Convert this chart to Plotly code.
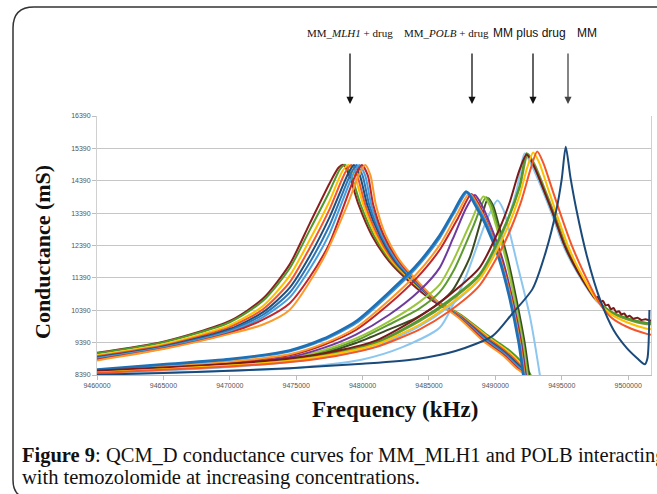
import plotly.graph_objects as go

# ---------------- axis ticks ----------------
Y_TICKS = [8390, 9390, 10390, 11390, 12390, 13390, 14390, 15390, 16390]
X_TICKS = [9460000, 9465000, 9470000, 9475000, 9480000, 9485000, 9490000, 9495000, 9500000]
X_RANGE = [9460000, 9501720]
Y_RANGE = [8390, 16390]

# ---------------- MM_MLH1 + drug (frequency kHz, conductance mS) ----------------
MLH1_DARKRED = [(9460000, 9080), (9465000, 9420), (9470000, 10060), (9472500, 10750), (9474500, 11800),
                (9476000, 13050), (9477500, 14300), (9478200, 14800), (9478550, 14880), (9479000, 14550),
                (9479700, 13650), (9480700, 12700), (9482000, 11900), (9483500, 11280), (9485300, 10680),
                (9487300, 10200), (9489300, 9560), (9490800, 9130), (9491800, 8730), (9492450, 8390), (9492600, 8100)]
MLH1_GREEN = [(9460000, 9060), (9465000, 9400), (9470000, 10020), (9472500, 10680), (9474500, 11680),
              (9476000, 12850), (9477500, 14050), (9478300, 14750), (9478700, 14880), (9479150, 14550),
              (9479850, 13650), (9480850, 12700), (9482150, 11900), (9483650, 11300), (9485400, 10720),
              (9487400, 10250), (9489400, 9620), (9490900, 9200), (9491950, 8800), (9492650, 8390), (9492800, 8100)]
MLH1_YELLOW = [(9460000, 9000), (9465000, 9340), (9470000, 9930), (9472500, 10520), (9474500, 11450),
               (9476000, 12550), (9477500, 13750), (9478500, 14700), (9478950, 14880), (9479400, 14550),
               (9480050, 13650), (9481000, 12700), (9482250, 11900), (9483750, 11280), (9485450, 10700),
               (9487400, 10220), (9489400, 9580), (9490850, 9150), (9491850, 8760), (9492550, 8390), (9492700, 8100)]
MLH1_ORANGERED = [(9460000, 8970), (9465000, 9300), (9470000, 9870), (9472500, 10420), (9474500, 11250),
                  (9476000, 12300), (9477500, 13500), (9478700, 14650), (9479150, 14880), (9479600, 14550),
                  (9480200, 13650), (9481150, 12700), (9482350, 11900), (9483850, 11270), (9485500, 10680),
                  (9487400, 10200), (9489350, 9550), (9490800, 9110), (9491800, 8720), (9492450, 8390), (9492600, 8100)]
MLH1_NAVY = [(9460000, 8940), (9465000, 9270), (9470000, 9810), (9472500, 10330), (9474500, 11080),
             (9476000, 12050), (9477500, 13250), (9478900, 14600), (9479350, 14880), (9479800, 14550),
             (9480350, 13650), (9481300, 12700), (9482450, 11900), (9483900, 11260), (9485550, 10660),
             (9487400, 10170), (9489300, 9520), (9490750, 9080), (9491750, 8690), (9492400, 8390), (9492550, 8100)]
MLH1_BLUE = [(9460000, 8920), (9465000, 9250), (9470000, 9770), (9472500, 10250), (9474500, 10930),
             (9476000, 11850), (9477500, 13000), (9479100, 14600), (9479550, 14880), (9480000, 14550),
             (9480500, 13650), (9481400, 12700), (9482550, 11900), (9484000, 11250), (9485600, 10650),
             (9487400, 10160), (9489250, 9500), (9490700, 9060), (9491700, 8670), (9492350, 8390), (9492500, 8100)]
MLH1_LBLUE = [(9460000, 8900), (9465000, 9230), (9470000, 9730), (9472500, 10180), (9474500, 10780),
              (9476000, 11650), (9477500, 12750), (9479300, 14600), (9479750, 14880), (9480200, 14550),
              (9480650, 13650), (9481500, 12700), (9482650, 11900), (9484100, 11240), (9485650, 10640),
              (9487400, 10150), (9489200, 9480), (9490650, 9040), (9491650, 8650), (9492300, 8390), (9492450, 8100)]
MLH1_RED = [(9460000, 8870), (9465000, 9210), (9470000, 9690), (9472500, 10100), (9474500, 10600),
            (9476000, 11400), (9477500, 12450), (9479500, 14600), (9479950, 14880), (9480400, 14550),
            (9480800, 13650), (9481600, 12700), (9482750, 11900), (9484200, 11230), (9485700, 10630),
            (9487400, 10130), (9489150, 9460), (9490600, 9020), (9491600, 8630), (9492250, 8390), (9492400, 8100)]
MLH1_ORANGE = [(9460000, 8840), (9465000, 9190), (9470000, 9660), (9472500, 9950), (9474500, 10400),
               (9477000, 11950), (9478800, 13590), (9479750, 14600), (9480200, 14880), (9480600, 14550),
               (9481000, 13650), (9481750, 12700), (9482850, 11900), (9484300, 11220), (9485750, 10620),
               (9487400, 10100), (9489100, 9430), (9490550, 9000), (9491550, 8610), (9492200, 8390), (9492350, 8100)]

# ---------------- MM_POLB + drug ----------------
POLB_BLUE1 = [(9460000, 8560), (9465000, 8720), (9470000, 8880), (9474500, 9150), (9477000, 9500), (9479500, 10050),
              (9482000, 10950), (9484000, 11750), (9485800, 12700), (9486800, 13400), (9487800, 14060),
              (9488500, 13620), (9489300, 13000), (9490300, 11950), (9491050, 10800), (9491750, 9400),
              (9492100, 8390), (9492200, 8100)]
POLB_BLUE2 = [(9460000, 8540), (9465000, 8700), (9470000, 8860), (9474500, 9120), (9477000, 9460), (9479500, 9990),
              (9482000, 10880), (9484000, 11680), (9485800, 12620), (9486900, 13400), (9487900, 14040),
              (9488600, 13620), (9489400, 13000), (9490350, 11950), (9491100, 10800), (9491800, 9400),
              (9492150, 8390), (9492250, 8100)]
POLB_ORANGE = [(9460000, 8500), (9465000, 8650), (9470000, 8800), (9474500, 9030), (9477000, 9350), (9479500, 9850),
               (9482000, 10700), (9484000, 11480), (9485800, 12400), (9487100, 13350), (9488050, 14000),
               (9488700, 13620), (9489450, 13000), (9490400, 11950), (9491150, 10800), (9491850, 9400),
               (9492200, 8390), (9492300, 8100)]
POLB_RED = [(9460000, 8490), (9465000, 8630), (9470000, 8780), (9474500, 9000), (9477000, 9310), (9479500, 9780),
            (9482000, 10580), (9484000, 11350), (9485800, 12250), (9487200, 13250), (9488200, 13980),
            (9488800, 13620), (9489500, 13000), (9490450, 11950), (9491200, 10800), (9491900, 9400),
            (9492250, 8390), (9492350, 8100)]
POLB_PURPLE = [(9460000, 8470), (9465000, 8600), (9470000, 8740), (9474500, 8940), (9477000, 9220), (9479500, 9640),
               (9482000, 10250), (9484300, 11000), (9485800, 11700), (9486800, 12600), (9487800, 13550),
               (9488450, 13950), (9489000, 13620), (9489650, 13000), (9490550, 11950), (9491250, 10800),
               (9491950, 9400), (9492300, 8390), (9492400, 8100)]
POLB_YGREEN = [(9460000, 8460), (9465000, 8580), (9470000, 8710), (9474500, 8900), (9477000, 9150), (9479500, 9520),
               (9482000, 10050), (9484300, 10650), (9485800, 11180), (9486800, 11900), (9488100, 13070),
               (9489100, 13900), (9489550, 13650), (9490050, 13000), (9490800, 11950), (9491400, 10800),
               (9492050, 9400), (9492400, 8390), (9492500, 8100)]
POLB_GREEN = [(9460000, 8455), (9465000, 8570), (9470000, 8695), (9474500, 8870), (9477000, 9100), (9479500, 9450),
              (9482000, 9950), (9484300, 10450), (9485800, 10950), (9486900, 11650), (9488300, 12950),
              (9489300, 13880), (9489700, 13650), (9490150, 13000), (9490850, 11950), (9491450, 10800),
              (9492100, 9400), (9492450, 8390), (9492550, 8100)]
POLB_DOLIVE = [(9460000, 8450), (9465000, 8560), (9470000, 8680), (9474500, 8850), (9477000, 9060), (9479500, 9380),
               (9482000, 9800), (9484000, 10150), (9485800, 10620), (9486800, 11020), (9488100, 12050),
               (9488850, 13070), (9489450, 13850), (9489850, 13600), (9490300, 12950), (9490950, 11950),
               (9491550, 10800), (9492200, 9400), (9492550, 8390), (9492650, 8100)]
POLB_LBLUE = [(9460000, 8410), (9465000, 8460), (9470000, 8520), (9475000, 8610), (9480000, 8870), (9483000, 9250),
              (9485800, 9850), (9486800, 10550), (9487800, 11450), (9488600, 12350), (9489350, 13180),
              (9490150, 13780), (9490600, 13500), (9491100, 12750), (9491600, 11900), (9492600, 10200),
              (9493350, 8390), (9493450, 8100)]

# ---------------- MM plus drug ----------------
MMD_LBLUE = [(9460000, 8440), (9465000, 8530), (9470000, 8640), (9474500, 8790), (9478000, 8990), (9481000, 9270),
             (9484300, 9900), (9486500, 10500), (9488800, 11350), (9490600, 12800), (9491600, 14100),
             (9492200, 15230), (9492700, 14900), (9493600, 14050), (9494400, 13200), (9495100, 12400),
             (9496100, 11600), (9497600, 10680), (9498600, 10340), (9499900, 10130), (9501400, 9990), (9501720, 9970)]
MMD_GREEN = [(9460000, 8500), (9465000, 8600), (9470000, 8720), (9474500, 8880), (9478000, 9100), (9481000, 9400),
             (9484300, 10100), (9486500, 10700), (9488800, 11500), (9490600, 12900), (9491800, 14200),
             (9492350, 15240), (9492850, 14900), (9493700, 14050), (9494500, 13200), (9495200, 12400),
             (9496150, 11620), (9497650, 10700), (9498650, 10360), (9499900, 10150), (9501400, 10000), (9501720, 10010)]
MMD_OLIVE = [(9460000, 8490), (9465000, 8590), (9470000, 8700), (9474500, 8860), (9478000, 9070), (9481000, 9370),
             (9484300, 10050), (9486500, 10650), (9488800, 11450), (9490600, 12850), (9491850, 14200),
             (9492450, 15220), (9492950, 14900), (9493800, 14050), (9494600, 13200), (9495300, 12400),
             (9496200, 11620), (9497700, 10690), (9498700, 10330), (9499900, 10110), (9501400, 9960), (9501720, 9960)]
MMD_DARKRED = [(9460000, 8520), (9465000, 8620), (9470000, 8740), (9474500, 8900), (9478000, 9130), (9481000, 9450),
               (9484300, 10200), (9486500, 10850), (9488800, 11700), (9490300, 12900), (9491100, 13750),
               (9491800, 14700), (9492350, 15200), (9492900, 14850), (9493700, 14050), (9494500, 13200),
               (9495200, 12400), (9496150, 11620), (9497000, 11050), (9497500, 10760), (9497700, 10800),
               (9497900, 10640), (9498100, 10680), (9498300, 10540), (9498500, 10560), (9498700, 10420),
               (9498900, 10460), (9499100, 10330), (9499300, 10360), (9499500, 10260), (9499700, 10290),
               (9499900, 10190), (9500100, 10220), (9500400, 10130), (9500700, 10160), (9501000, 10090),
               (9501300, 10110), (9501720, 10060)]
MMD_YELLOW = [(9460000, 8470), (9465000, 8570), (9470000, 8680), (9474500, 8830), (9478000, 9040), (9481000, 9330),
              (9484300, 9950), (9486500, 10550), (9488800, 11350), (9490600, 12650), (9491800, 13900),
              (9492400, 14800), (9492850, 15260), (9493300, 14950), (9494000, 14100), (9494750, 13200),
              (9495450, 12400), (9496350, 11600), (9497750, 10640), (9498700, 10270), (9499900, 10020),
              (9501400, 9820), (9501720, 9800)]
MMD_ORANGERED = [(9460000, 8450), (9465000, 8550), (9470000, 8650), (9474500, 8790), (9478000, 8980), (9481000, 9250),
                 (9484300, 9800), (9486500, 10350), (9488800, 11150), (9490600, 12400), (9491900, 13700),
                 (9492650, 14750), (9493150, 15290), (9493600, 14950), (9494300, 14100), (9495000, 13250),
                 (9495700, 12450), (9496600, 11600), (9497850, 10600), (9498750, 10160), (9499900, 9880),
                 (9501400, 9660), (9501720, 9630)]

# ---------------- MM ----------------
MM_NAVY = [(9460000, 8400), (9465000, 8450), (9470000, 8520), (9474500, 8600), (9480000, 8740), (9484000, 8880),
           (9487000, 9130), (9489800, 9600), (9491200, 10250), (9492800, 11050), (9493800, 12200), (9494600, 13500),
           (9495000, 14450), (9495300, 15440), (9495650, 14500), (9496100, 13500), (9496900, 12050),
           (9497900, 10700), (9498900, 9780), (9499900, 9220), (9500700, 8900), (9501250, 8720), (9501450, 8900),
           (9501600, 10400)]

SERIES = [
    (MLH1_DARKRED, "#8b1e1e", 2), (MLH1_GREEN, "#4e9a2c", 2), (MLH1_YELLOW, "#ffc000", 2),
    (MLH1_ORANGERED, "#f2562a", 2), (MLH1_NAVY, "#1f4e79", 2), (MLH1_BLUE, "#2e75b6", 2),
    (MLH1_LBLUE, "#45a0dc", 2), (MLH1_RED, "#c0262c", 2), (MLH1_ORANGE, "#fb9a2a", 2),
    (POLB_LBLUE, "#8dc6ef", 2), (POLB_DOLIVE, "#3b4a21", 2), (POLB_GREEN, "#5b9b2f", 2),
    (POLB_YGREEN, "#9bc53d", 2), (POLB_PURPLE, "#6f3a9e", 2), (POLB_RED, "#c0262c", 2),
    (POLB_ORANGE, "#fb9a2a", 2), (POLB_BLUE2, "#3a8fd2", 2.2), (POLB_BLUE1, "#1f6fb5", 2.6),
    (MMD_LBLUE, "#8dc6ef", 2), (MMD_OLIVE, "#77933c", 2), (MMD_GREEN, "#4e9a2c", 2),
    (MMD_DARKRED, "#7a1a1a", 2), (MMD_YELLOW, "#ffc000", 2), (MMD_ORANGERED, "#f2562a", 2),
    (MM_NAVY, "#1b4a7a", 2),
]

W, H = 657, 494
ML, MR, MT, MB = 97, 6, 116, 119
PW, PH = W - ML - MR, H - MT - MB


def px(x):
    return (x - ML) / PW


def py(y):
    return (H - MB - y) / PH


fig = go.Figure()
for pts, color, width in SERIES:
    fig.add_trace(go.Scatter(
        x=[p[0] for p in pts], y=[p[1] for p in pts], mode="lines",
        line=dict(color=color, width=width, shape="spline", smoothing=0.7),
        hoverinfo="skip", showlegend=False))

tick_font = dict(family="Liberation Sans, Arial, sans-serif", size=7, color="#555555")
fig.update_xaxes(range=X_RANGE, tickvals=X_TICKS, ticktext=[str(v) for v in X_TICKS],
                 showgrid=False, zeroline=False, showline=True, linecolor="#bdbdbd", linewidth=1,
                 ticks="outside", ticklen=4, tickcolor="#bdbdbd", tickfont=tick_font)
fig.update_yaxes(range=Y_RANGE, tickvals=Y_TICKS, ticktext=[str(v) for v in Y_TICKS],
                 showgrid=True, gridcolor="#c6c6c6", gridwidth=1, zeroline=False,
                 showline=True, linecolor="#d0d0d0", linewidth=1, mirror=True,
                 ticks="outside", ticklen=4, tickcolor="#bdbdbd", tickfont=tick_font)

serif = "Liberation Serif, Times New Roman, serif"
sans = "Liberation Sans, Arial, sans-serif"


def label(xp, yp, text, font, **kw):
    d = dict(x=px(xp), y=py(yp), xref="paper", yref="paper", text=text, showarrow=False,
             xanchor="center", yanchor="middle", font=font)
    d.update(kw)
    return d


annotations = [
    label(350, 33, "MM_<i>MLH1</i> + drug", dict(family=serif, size=11, color="#111")),
    label(446, 33, "MM_<i>POLB</i> + drug", dict(family=serif, size=11, color="#111")),
    label(529, 33, "MM plus drug", dict(family=sans, size=12, color="#111")),
    label(587, 33, "MM", dict(family=sans, size=12, color="#111")),
]
# arrows
for xa, col in [(350, "#111"), (472, "#111"), (533, "#111"), (568, "#444")]:
    annotations.append(dict(x=px(xa), y=py(104), xref="paper", yref="paper", text="", showarrow=True,
                            ax=0, ay=-52, arrowhead=2, arrowsize=1.1, arrowwidth=1.3, arrowcolor=col))
# axis titles
annotations.append(label(42, 252, "<b>Conductance (mS)</b>", dict(family=serif, size=22, color="#111"),
                         textangle=-90))
annotations.append(label(395, 409, "<b>Frequency (kHz)</b>", dict(family=serif, size=23, color="#111")))
# caption
annotations.append(label(20, 455, "<b>Figure 9</b>: QCM_D conductance curves for MM_MLH1 and POLB interacting",
                         dict(family=serif, size=20.5, color="#111"), xanchor="left"))
annotations.append(label(20, 478, "with temozolomide at increasing concentrations.",
                         dict(family=serif, size=20.5, color="#111"), xanchor="left"))

frame = (f"M {px(30)},{py(498)} Q {px(13)},{py(498)} {px(13)},{py(480)} "
         f"L {px(13)},{py(28)} Q {px(13)},{py(7)} {px(34)},{py(7)} L {px(720)},{py(7)}")

fig.update_layout(
    width=W, height=H, margin=dict(l=ML, r=MR, t=MT, b=MB),
    paper_bgcolor="white", plot_bgcolor="white",
    annotations=annotations,
    shapes=[dict(type="path", path=frame, xref="paper", yref="paper",
                 line=dict(color="#333333", width=1.5))],
)

fig.write_html("out.html")
